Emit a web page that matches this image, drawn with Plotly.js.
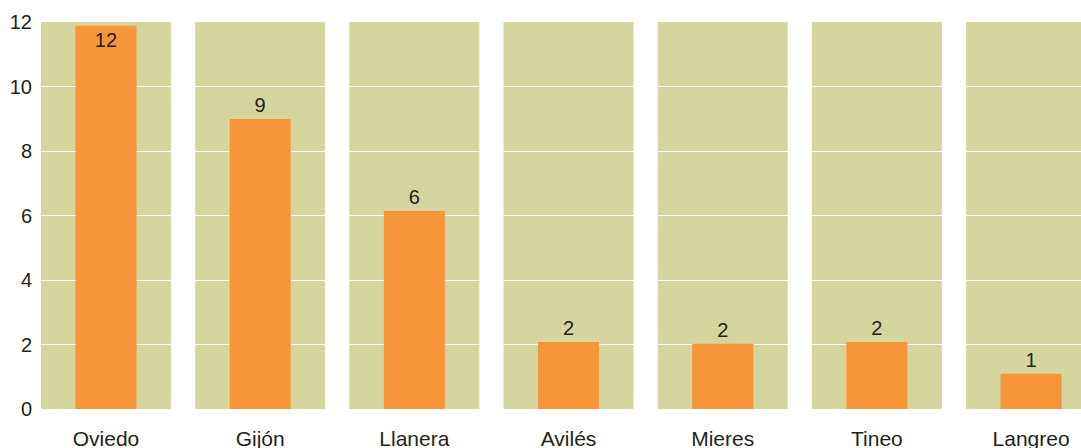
<!DOCTYPE html>
<html>
<head>
<meta charset="utf-8">
<script src="https://cdn.plot.ly/plotly-3.0.1.min.js"></script>
<style>
html,body{margin:0;padding:0;background:#fff;}
#chart{width:1081px;height:448px;}
</style>
</head>
<body>
<div id="chart"></div>
<script>
const categories = ["Oviedo", "Gijón", "Llanera", "Avilés", "Mieres", "Tineo", "Langreo"];
const barHeights = [11.88, 8.99, 6.14, 2.08, 2.02, 2.08, 1.09];
const barLabels = ["12", "9", "6", "2", "2", "2", "1"];
const labelPositions = ["inside", "outside", "outside", "outside", "outside", "outside", "outside"];
const yTickValues = [0, 2, 4, 6, 8, 10, 12];

const panelColor = "#D5D69E";
const barColor = "#F6953A";
const textColor = "#231F20";
const panelWidth = 0.843;

const bars = {
  type: "bar",
  x: categories.map((c, i) => i),
  y: barHeights,
  text: barLabels,
  textposition: labelPositions,
  insidetextanchor: "end",
  textangle: 0,
  cliponaxis: false,
  textfont: {family: "Liberation Sans, Arial, sans-serif", size: 20, color: textColor},
  insidetextfont: {family: "Liberation Sans, Arial, sans-serif", size: 20, color: textColor},
  outsidetextfont: {family: "Liberation Sans, Arial, sans-serif", size: 20, color: textColor},
  marker: {color: barColor, line: {width: 0}},
  width: 0.396,
  hoverinfo: "none"
};

const panels = categories.map((c, i) => ({
  type: "rect",
  layer: "below",
  xref: "x",
  yref: "paper",
  x0: i - panelWidth / 2,
  x1: i + panelWidth / 2,
  y0: 0,
  y1: 1,
  fillcolor: panelColor,
  line: {width: 0}
}));

const layout = {
  width: 1081,
  height: 448,
  margin: {l: 41, r: 0, t: 22, b: 39},
  paper_bgcolor: "#ffffff",
  plot_bgcolor: "#ffffff",
  showlegend: false,
  font: {family: "Liberation Sans, Arial, sans-serif", size: 20, color: textColor},
  xaxis: {
    range: [-panelWidth / 2, 6.324],
    tickvals: categories.map((c, i) => i),
    ticktext: categories,
    showgrid: false,
    zeroline: false,
    showline: false,
    ticks: "",
    ticklabelstandoff: 15,
    tickfont: {size: 21, color: textColor}
  },
  yaxis: {
    range: [0, 12],
    tickvals: yTickValues,
    showgrid: true,
    gridcolor: "#ffffff",
    gridwidth: 1,
    zeroline: false,
    showline: false,
    ticks: "",
    ticklabelstandoff: 8,
    tickfont: {size: 20, color: textColor}
  },
  shapes: panels
};

Plotly.newPlot("chart", [bars], layout, {staticPlot: true, displayModeBar: false});
</script>
</body>
</html>
